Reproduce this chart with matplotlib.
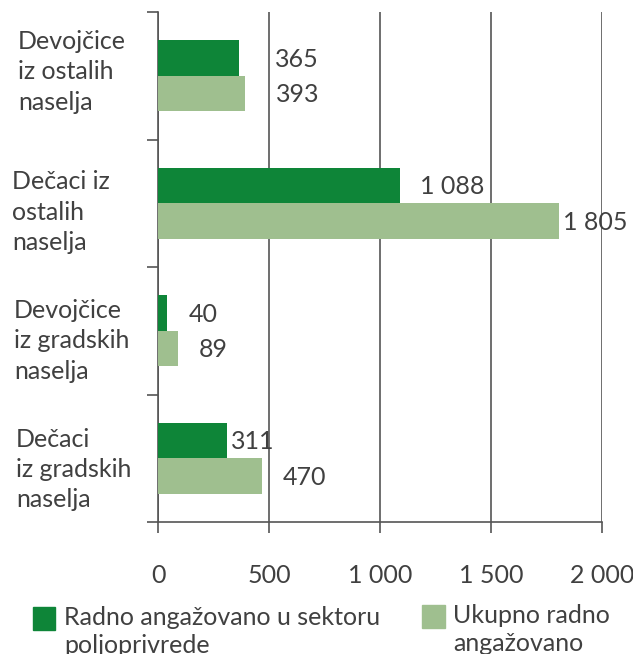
import matplotlib
matplotlib.use("Agg")
import matplotlib.pyplot as plt
import matplotlib.transforms as mtransforms
from matplotlib.patches import Rectangle
import numpy as np

categories = [
    "Devojčice\niz ostalih\nnaselja",
    "Dečaci iz\nostalih\nnaselja",
    "Devojčice\niz gradskih\nnaselja",
    "Dečaci\niz gradskih\nnaselja",
]
agri_values = [365, 1088, 40, 311]
total_values = [393, 1805, 89, 470]
agri_labels = ["365", "1 088", "40", "311"]
total_labels = ["393", "1 805", "89", "470"]
xticks = [0, 500, 1000, 1500, 2000]
xtick_labels = ["0", "500", "1 000", "1 500", "2 000"]
legend_labels = ["Radno angažovano u sektoru\npoljoprivrede", "Ukupno radno\nangažovano"]

DARK = "#0e8538"
LIGHT = "#9fbf8f"
TEXT = "#404040"
LINE = "#555555"
FS = 18

plt.rcParams["font.family"] = ["Lato", "DejaVu Sans"]

W, H = 633, 654
fig = plt.figure(figsize=(W / 100, H / 100), dpi=100)
ax = fig.add_axes([158 / W, 1 - 522 / H, 444 / W, 510 / H])

y = np.arange(len(categories))
bh = 0.28
ax.barh(y - bh / 2, agri_values, height=bh, color=DARK, zorder=3)
ax.barh(y + bh / 2, total_values, height=bh, color=LIGHT, zorder=3)

# value labels, nudged like in the source layout (offsets in points)
agri_dx = [26, 15, 16, 3]
total_dx = [22, 3, 15, 15]
for i in range(len(categories)):
    ax.annotate(agri_labels[i], (agri_values[i], y[i] - bh / 2), xytext=(agri_dx[i], -1),
                textcoords="offset points", va="center", ha="left", fontsize=FS, color=TEXT)
    ax.annotate(total_labels[i], (total_values[i], y[i] + bh / 2), xytext=(total_dx[i], -1),
                textcoords="offset points", va="center", ha="left", fontsize=FS, color=TEXT)

ax.set_xlim(0, 2000)
ax.set_ylim(len(categories) - 0.5, -0.5)

ax.set_xticks(xticks)
ax.set_xticklabels(xtick_labels, fontsize=FS, color=TEXT)
ax.tick_params(axis="x", direction="out", length=8, width=1.2, color=LINE, pad=22)

ax.set_yticks(np.arange(len(categories) + 1) - 0.5)
ax.set_yticklabels([])
ax.tick_params(axis="y", direction="out", length=8, width=1.2, color=LINE)

for s in ["top", "right"]:
    ax.spines[s].set_visible(False)
for s in ["left", "bottom"]:
    ax.spines[s].set_color(LINE)
    ax.spines[s].set_linewidth(1.2)

ax.grid(axis="x", color=LINE, linewidth=1.2, zorder=0)
ax.set_axisbelow(True)

trans = mtransforms.blended_transform_factory(fig.transFigure, ax.transData)
label_x = [18, 12, 14, 16]
label_dy = [-0.03, 0.07, 0.08, 0.09]
for i, c in enumerate(categories):
    ax.text(label_x[i] / W, y[i] + label_dy[i], c, transform=trans, ha="left", va="center",
            fontsize=FS, color=TEXT, linespacing=1.38)

# legend
fig.add_artist(Rectangle((33 / W, 1 - 630 / H), 22 / W, 23 / H, transform=fig.transFigure,
                         color=DARK))
fig.add_artist(Rectangle((422 / W, 1 - 628 / H), 23 / W, 23 / H, transform=fig.transFigure,
                         color=LIGHT))
fig.text(64 / W, 1 - 606 / H, legend_labels[0], ha="left", va="top", fontsize=FS,
         color=TEXT, linespacing=1.25)
fig.text(453 / W, 1 - 604 / H, legend_labels[1], ha="left", va="top", fontsize=FS,
         color=TEXT, linespacing=1.25)

fig.savefig("out.png", dpi=100)
